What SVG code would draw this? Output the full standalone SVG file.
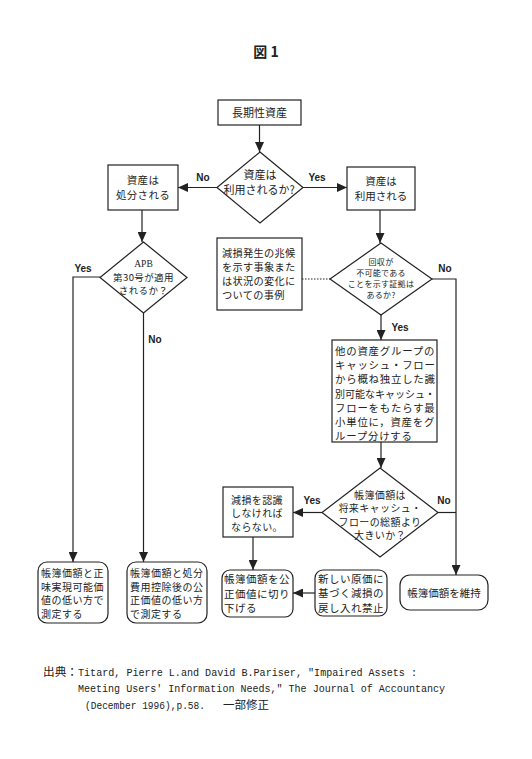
<svg xmlns="http://www.w3.org/2000/svg" width="532" height="759" viewBox="0 0 532 759">
<style>
.bg{fill:#ffffff}
.box{fill:#ffffff;stroke:#222;stroke-width:1.2}
.ln{fill:none;stroke:#222;stroke-width:1.2}
.dot{fill:none;stroke:#222;stroke-width:1.2;stroke-dasharray:1.5 1.5}
.jp{font-family:"Noto Sans CJK JP","Noto Sans",sans-serif;fill:#222}
.lbl{font-family:"Liberation Sans","DejaVu Sans",sans-serif;font-size:10px;font-weight:bold;fill:#222;text-anchor:middle}
.mono{font-family:"Liberation Mono","Noto Sans CJK JP",monospace;font-size:11px;fill:#222}
</style>
<defs>
<marker id="ah" markerUnits="userSpaceOnUse" markerWidth="10" markerHeight="9" refX="10" refY="4.5" orient="auto">
<path d="M0,0 L10,4.5 L0,9 z" fill="#222"/>
</marker>
</defs>
<rect class="bg" x="0" y="0" width="532" height="759"/>

<text class="jp" x="266" y="57" font-size="14" font-weight="bold" text-anchor="middle">図 1</text>

<g id="connectors">
<line class="ln" x1="259.5" y1="125" x2="259.5" y2="152" marker-end="url(#ah)"/>
<line class="ln" x1="217" y1="187.5" x2="178" y2="187.5" marker-end="url(#ah)"/>
<line class="ln" x1="303" y1="187.5" x2="347" y2="187.5" marker-end="url(#ah)"/>
<line class="ln" x1="142" y1="210" x2="142" y2="242" marker-end="url(#ah)"/>
<line class="ln" x1="380" y1="210" x2="380" y2="243" marker-end="url(#ah)"/>
<polyline class="ln" points="100,277 73,277 73,562" marker-end="url(#ah)"/>
<line class="ln" x1="143.5" y1="313" x2="143.5" y2="562" marker-end="url(#ah)"/>
<line class="dot" x1="302" y1="279" x2="330" y2="279"/>
<polyline class="ln" points="432,279 456,279 456,575" marker-end="url(#ah)"/>
<line class="ln" x1="381" y1="315" x2="381" y2="340" marker-end="url(#ah)"/>
<line class="ln" x1="381" y1="442" x2="381" y2="468" marker-end="url(#ah)"/>
<line class="ln" x1="322" y1="512.5" x2="293" y2="512.5" marker-end="url(#ah)"/>
<line class="ln" x1="438" y1="512.5" x2="456" y2="512.5"/>
<line class="ln" x1="253" y1="537" x2="253" y2="570" marker-end="url(#ah)"/>
<line class="ln" x1="315" y1="593" x2="293" y2="593" marker-end="url(#ah)"/>
<text class="lbl" x="203" y="181">No</text>
<text class="lbl" x="317" y="181">Yes</text>
<text class="lbl" x="83" y="272">Yes</text>
<text class="lbl" x="155" y="343">No</text>
<text class="lbl" x="445" y="272">No</text>
<text class="lbl" x="400" y="331">Yes</text>
<text class="lbl" x="312" y="504">Yes</text>
<text class="lbl" x="444" y="504">No</text>
</g>

<g id="n_start">
<rect class="box" x="218" y="100" width="83" height="25"/>
<text class="jp" x="259.5" y="117" font-size="11" text-anchor="middle">長期性資産</text>
</g>

<g id="n_d1">
<polygon class="box" points="260,152 303,187.5 260,223 217,187.5"/>
<text class="jp" font-size="11" text-anchor="middle"><tspan x="260" y="179">資産は</tspan><tspan x="259" y="194">利用されるか?</tspan></text>
</g>

<g id="n_dispose">
<rect class="box" x="108" y="165" width="70" height="45"/>
<text class="jp" font-size="10.5" text-anchor="middle" letter-spacing="0.3"><tspan x="143" y="184">資産は</tspan><tspan x="143" y="199">処分される</tspan></text>
</g>

<g id="n_use">
<rect class="box" x="347" y="167" width="68" height="43"/>
<text class="jp" font-size="10.5" text-anchor="middle"><tspan x="381" y="185">資産は</tspan><tspan x="381" y="200">利用される</tspan></text>
</g>

<g id="n_apb">
<polygon class="box" points="143.5,242 187,277.5 143.5,313 100,277.5"/>
<text font-family="Liberation Serif,serif" font-size="9.5" fill="#222" x="143.5" y="267" text-anchor="middle">APB</text>
<text class="jp" font-size="9.5" text-anchor="middle" letter-spacing="0.4"><tspan x="143.5" y="281">第30号が適用</tspan><tspan x="143.5" y="294">されるか？</tspan></text>
</g>

<g id="n_signs">
<rect class="box" x="217" y="238" width="85" height="72"/>
<text class="jp" font-size="10.2" letter-spacing="0.3"><tspan x="222" y="257">減損発生の兆候</tspan><tspan x="222" y="271">を示す事象また</tspan><tspan x="222" y="285">は状況の変化に</tspan><tspan x="222" y="299">ついての事例</tspan></text>
</g>

<g id="n_d2">
<polygon class="box" points="381,243 432,279 381,315 330,279"/>
<text class="jp" font-size="8" text-anchor="middle" letter-spacing="0.3"><tspan x="381" y="265">回収が</tspan><tspan x="381" y="276">不可能である</tspan><tspan x="381" y="287">ことを示す証拠は</tspan><tspan x="381" y="298">あるか?</tspan></text>
</g>

<g id="n_group">
<rect class="box" x="332" y="340" width="105" height="102"/>
<text class="jp" font-size="10.4" letter-spacing="0.8"><tspan x="335" y="355">他の資産グループの</tspan><tspan x="335" y="369.2">キャッシュ・フロー</tspan><tspan x="335" y="383.4">から概ね独立した識</tspan><tspan x="335" y="397.6" letter-spacing="0" textLength="100" lengthAdjust="spacingAndGlyphs">別可能なキャッシュ・</tspan><tspan x="335" y="411.8">フローをもたらす最</tspan><tspan x="335" y="426">小単位に，資産をグ</tspan><tspan x="335" y="440">ループ分けする</tspan></text>
</g>

<g id="n_d3">
<polygon class="box" points="380,468 438,512.5 380,557 322,512.5"/>
<text class="jp" font-size="10" text-anchor="middle" letter-spacing="0.4"><tspan x="380" y="498.5">帳簿価額は</tspan><tspan x="380" y="512">将来キャッシュ・</tspan><tspan x="380" y="525.5">フローの総額より</tspan><tspan x="380" y="539">大きいか？</tspan></text>
</g>

<g id="n_recognize">
<rect class="box" x="223" y="487" width="70" height="50"/>
<text class="jp" font-size="10" letter-spacing="0.4"><tspan x="231" y="503.5">減損を認識</tspan><tspan x="231" y="517">しなければ</tspan><tspan x="231" y="530.5">ならない。</tspan></text>
</g>

<g id="n_a">
<rect class="box" x="38" y="562" width="70" height="61" rx="9"/>
<text class="jp" font-size="10" letter-spacing="0.5"><tspan x="41" y="577">帳簿価額と正</tspan><tspan x="41" y="590.5">味実現可能価</tspan><tspan x="41" y="604">値の低い方で</tspan><tspan x="41" y="617.5">測定する</tspan></text>
</g>

<g id="n_b">
<rect class="box" x="127" y="562" width="80" height="61" rx="9"/>
<text class="jp" font-size="10" letter-spacing="0.5"><tspan x="130" y="577">帳簿価額と処分</tspan><tspan x="130" y="590.5">費用控除後の公</tspan><tspan x="130" y="604">正価値の低い方</tspan><tspan x="130" y="617.5">で測定する</tspan></text>
</g>

<g id="n_c">
<rect class="box" x="222" y="570" width="71" height="47" rx="8"/>
<text class="jp" font-size="10.5" letter-spacing="0.5"><tspan x="224" y="583">帳簿価額を公</tspan><tspan x="224" y="597.5">正価値に切り</tspan><tspan x="224" y="612">下げる</tspan></text>
</g>

<g id="n_d">
<rect class="box" x="315" y="570" width="72" height="46" rx="8"/>
<text class="jp" font-size="10.5" letter-spacing="0.5"><tspan x="318" y="582.5">新しい原価に</tspan><tspan x="318" y="597">基づく減損の</tspan><tspan x="318" y="611.5">戻し入れ禁止</tspan></text>
</g>

<g id="n_e">
<rect class="box" x="400" y="575" width="88" height="35" rx="10"/>
<text class="jp" font-size="10.5" x="444" y="596.5" text-anchor="middle">帳簿価額を維持</text>
</g>

<g id="citation">
<text class="jp" font-size="11.5" x="43" y="676" textLength="35" lengthAdjust="spacingAndGlyphs">出典：</text>
<text class="mono" x="78" y="676" textLength="339" lengthAdjust="spacingAndGlyphs">Titard, Pierre L.and David B.Pariser, "Impaired Assets :</text>
<text class="mono" x="78" y="692" textLength="367" lengthAdjust="spacingAndGlyphs">Meeting Users' Information Needs," The Journal of Accountancy</text>
<text class="mono" x="85" y="709" textLength="120" lengthAdjust="spacingAndGlyphs">(December 1996),p.58.</text>
<text class="jp" font-size="11.5" x="223" y="709">一部修正</text>
</g>
</svg>
